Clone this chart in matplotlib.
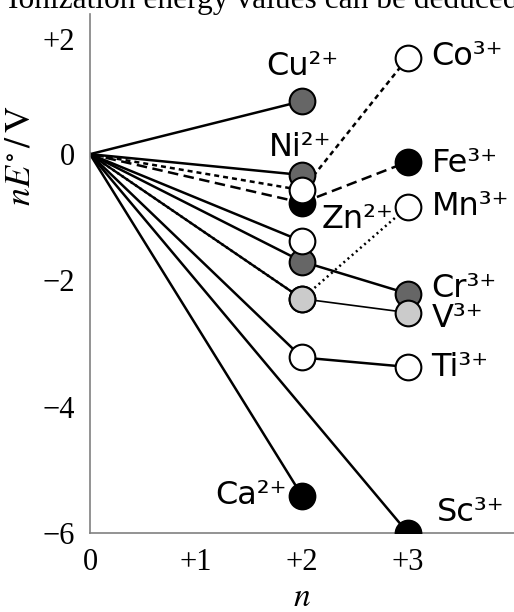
import numpy as np
import matplotlib
matplotlib.use('Agg')
import matplotlib.pyplot as plt

# nE° values (V), for the 2+ and 3+ ions
elements = ['Ca', 'Sc', 'Ti', 'V', 'Cr', 'Mn', 'Fe', 'Co', 'Ni', 'Cu', 'Zn']
nE_2 = [-5.41, np.nan, -3.22, -2.29, -1.70, -2.29, -0.77, -0.57, -0.33, 0.84, -1.38]
nE_3 = [np.nan, -6.00, -3.37, -2.51, -2.21, -0.83, -0.12, 1.53, np.nan, np.nan, np.nan]
n_values = [0, 1, 2, 3]
n_labels = ['0', '+1', '+2', '+3']
y_ticks = [-6, -4, -2, 0, 2]
y_labels = ['\u22126', '\u22124', '\u22122', '0', '+2']

DARK = '#666666'
LIGHT = '#cbcbcb'
# colour, line style, width from 0, width from +2 to +3, marker zorder
style = {
    'Ca': ('black', '-', 1.8, 1.8, 4),
    'Sc': ('black', '-', 1.8, 1.8, 4),
    'Ti': ('white', '-', 1.8, 1.8, 4),
    'V':  (LIGHT, '-', 1.7, 1.2, 5),
    'Cr': (DARK, '-', 1.8, 1.8, 4),
    'Mn': ('white', (0, (0.8, 1.4)), 1.8, 1.8, 4),
    'Fe': ('black', (0, (4.2, 2.2)), 1.8, 1.8, 4),
    'Co': ('white', (0, (2.0, 1.6)), 1.8, 1.8, 5),
    'Ni': (DARK, '-', 1.8, 1.8, 4),
    'Cu': (DARK, '-', 1.8, 1.8, 4),
    'Zn': ('white', '-', 1.8, 1.8, 4),
}
# label text and offset (points) from the point it names
labels = {
    ('Cu', 2): ('Cu\u00b2\u207a', (0, 25), 'center'),
    ('Ni', 2): ('Ni\u00b2\u207a', (-1, 19.5), 'center'),
    ('Zn', 2): ('Zn\u00b2\u207a', (14, 16), 'left'),
    ('Ca', 2): ('Ca\u00b2\u207a', (-11, 0), 'right'),
    ('Co', 3): ('Co\u00b3\u207a', (17, 0.5), 'left'),
    ('Fe', 3): ('Fe\u00b3\u207a', (17, -1), 'left'),
    ('Mn', 3): ('Mn\u00b3\u207a', (17, 0), 'left'),
    ('Cr', 3): ('Cr\u00b3\u207a', (17, 3.6), 'left'),
    ('V', 3):  ('V\u00b3\u207a', (17, -4.3), 'left'),
    ('Ti', 3): ('Ti\u00b3\u207a', (17, -0.7), 'left'),
    ('Sc', 3): ('Sc\u00b3\u207a', (21, 15), 'left'),
}

plt.rcParams['mathtext.fontset'] = 'stix'
fig = plt.figure(figsize=(5.14, 6.12), dpi=100)
ax = fig.add_axes([90 / 514, 79 / 612, 424 / 514, 519 / 612])

for i, el in enumerate(elements):
    color, ls, lw0, lw1, z = style[el]
    pts = [(n, v) for n, v in ((2, nE_2[i]), (3, nE_3[i])) if not np.isnan(v)]
    xs = [0] + [p[0] for p in pts]
    ys = [0] + [p[1] for p in pts]
    ax.plot(xs[:2], ys[:2], color='black', linestyle=ls, linewidth=lw0, zorder=2)
    if len(xs) > 2:
        ax.plot(xs[1:], ys[1:], color='black', linestyle=ls, linewidth=lw1, zorder=2)
    ax.plot(xs[1:], ys[1:], linestyle='none', marker='o', markersize=18.5,
            markerfacecolor=color, markeredgecolor='black',
            markeredgewidth=1.5, zorder=z)
    for n, v in pts:
        if (el, n) in labels:
            txt, off, ha = labels[(el, n)]
            ax.annotate(txt, (n, v), xytext=off, textcoords='offset points',
                        ha=ha, va='center', fontsize=23,
                        family='DejaVu Sans', zorder=6)

ax.set_xlim(0, 4)
ax.set_ylim(-6, 2.22)
ax.set_xticks(n_values)
ax.set_xticklabels(n_labels, family='Liberation Serif', fontsize=22)
ax.set_yticks(y_ticks)
ax.set_yticklabels(y_labels, family='Liberation Serif', fontsize=22)
ax.get_yticklabels()[-1].set_verticalalignment('top')
ax.tick_params(axis='both', length=0)
ax.tick_params(axis='y', pad=11)
ax.tick_params(axis='x', pad=11)
for side in ('top', 'right'):
    ax.spines[side].set_visible(False)
for side in ('left', 'bottom'):
    ax.spines[side].set_color('#808080')
    ax.spines[side].set_linewidth(1.2)

ax.set_xlabel(r'$n$', fontsize=24, labelpad=2)
ax.set_ylabel(r'$nE^{\circ}\,/\,\mathrm{V}$', fontsize=26)
ax.yaxis.set_label_coords(-0.127, 0.726)

fig.text(8 / 514, 1 - 8 / 612, 'Ionization energy values can be deduced',
         family='Liberation Serif', fontsize=22.6, va='baseline')

fig.savefig('out.png', dpi=100)
